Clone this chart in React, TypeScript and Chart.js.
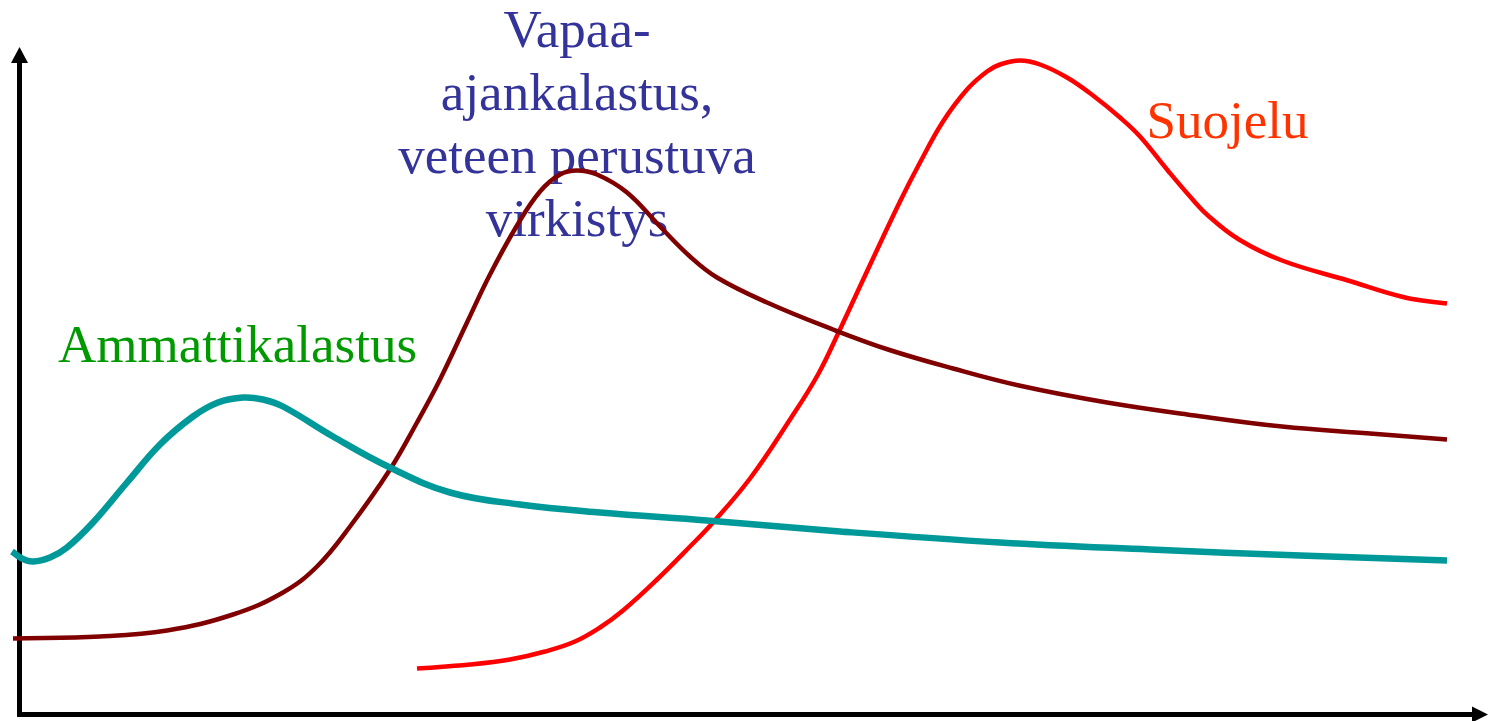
import React, { useEffect, useRef } from "react";
import { Chart, registerables } from "chart.js";

Chart.register(...registerables);

// Ammattikalastus (teal)
const ammattiX = [-0.7, 0.3, 1.4, 3.1, 4.8, 7.4, 10.8, 14.1, 17.4, 19.9, 22.4, 24.4, 26.4, 31.4, 37.1, 43.1, 50.1, 58.1, 68.8, 82.1, 98.1, 113.1, 128.1, 142.8];
const ammattiY = [16.3, 15.6, 15.3, 15.7, 16.7, 19.2, 23.2, 27.0, 29.8, 31.2, 31.7, 31.5, 30.8, 27.8, 24.7, 22.2, 21.0, 20.2, 19.4, 18.3, 17.2, 16.5, 15.9, 15.4];

// Vapaa-ajankalastus (dark red)
const vapaaX = [-0.6, 8.1, 14.8, 21.4, 26.4, 29.8, 33.1, 37.1, 39.8, 42.1, 44.8, 47.1, 49.8, 52.1, 54.1, 55.8, 57.8, 60.8, 64.1, 67.1, 69.8, 74.8, 81.4, 86.9, 93.4, 100.0, 108.8, 117.6, 126.3, 135.1, 142.8];
const vapaaY = [7.6, 7.8, 8.4, 10.0, 12.2, 14.8, 18.8, 24.5, 29.2, 33.5, 39.2, 44.0, 48.9, 52.3, 54.0, 54.4, 54.0, 52.2, 48.8, 45.8, 43.7, 41.2, 38.5, 36.5, 34.6, 32.9, 31.2, 29.9, 28.8, 28.1, 27.5];

// Suojelu (red)
const suojeluX = [39.8, 45.1, 49.1, 52.6, 55.6, 58.1, 60.4, 63.8, 67.1, 69.4, 73.1, 77.1, 79.9, 82.0, 84.7, 88.1, 90.1, 92.4, 94.8, 96.8, 98.1, 100.1, 102.1, 104.8, 107.4, 110.1, 112.1, 114.8, 117.1, 118.9, 122.0, 126.3, 132.9, 138.6, 142.8];
const suojeluY = [4.6, 5.0, 5.5, 6.3, 7.3, 8.7, 10.4, 13.5, 16.8, 19.2, 23.6, 29.5, 34.0, 38.3, 44.1, 51.3, 55.2, 59.3, 62.5, 64.3, 65.0, 65.4, 65.0, 63.7, 61.9, 59.7, 57.8, 54.5, 51.8, 49.9, 47.5, 45.4, 43.4, 41.7, 41.1];

// Text labels (data coordinates: center x, baseline y)
const labelTexts = ["Ammattikalastus", "Vapaa-", "ajankalastus,", "veteen perustuva", "virkistys", "Suojelu"];
const labelX = [21.85, 55.8, 55.8, 55.8, 55.8, 120.85];
const labelY = [35.25, 66.75, 60.45, 54.15, 47.85, 57.65];
const labelColors = ["#009900", "#333399", "#333399", "#333399", "#333399", "#FF3300"];

const xMax = 146.9;
const yMax = 66.75;
const FONT = '53px "Liberation Serif", "Times New Roman", "DejaVu Serif", serif';

const toPoints = (xs: number[], ys: number[]) => xs.map((x, i) => ({ x, y: ys[i] }));

const decorPlugin = {
  id: "decor",
  beforeDatasetsDraw(chart: any) {
    const { ctx, chartArea, scales } = chart;
    const xs = scales.x;
    const ys = scales.y;
    ctx.save();
    // axes
    ctx.strokeStyle = "#000";
    ctx.fillStyle = "#000";
    ctx.lineWidth = 5;
    ctx.lineCap = "butt";
    const ax = chartArea.left + 0.5;
    const ay = chartArea.bottom;
    ctx.beginPath();
    ctx.moveTo(ax, ay + 2.5);
    ctx.lineTo(ax, chartArea.top + 14);
    ctx.stroke();
    ctx.beginPath();
    ctx.moveTo(ax - 2.5, ay);
    ctx.lineTo(chartArea.right - 14, ay);
    ctx.stroke();
    // arrowheads
    ctx.beginPath();
    ctx.moveTo(ax, chartArea.top);
    ctx.lineTo(ax - 8.5, chartArea.top + 16);
    ctx.lineTo(ax + 8.5, chartArea.top + 16);
    ctx.closePath();
    ctx.fill();
    ctx.beginPath();
    ctx.moveTo(chartArea.right, ay);
    ctx.lineTo(chartArea.right - 16, ay - 8);
    ctx.lineTo(chartArea.right - 16, ay + 8);
    ctx.closePath();
    ctx.fill();
    // labels
    ctx.font = FONT;
    ctx.textAlign = "center";
    ctx.textBaseline = "alphabetic";
    labelTexts.forEach((t, i) => {
      ctx.fillStyle = labelColors[i];
      ctx.fillText(t, xs.getPixelForValue(labelX[i]), ys.getPixelForValue(labelY[i]));
    });
    ctx.restore();
  },
};

export default function App() {
  const ref = useRef<HTMLCanvasElement | null>(null);
  useEffect(() => {
    if (!ref.current) return;
    const common = {
      pointRadius: 0,
      pointHoverRadius: 0,
      fill: false,
      tension: 0.4,
      clip: false as any,
      borderCapStyle: "butt" as const,
      borderJoinStyle: "round" as const,
    };
    const chart = new Chart(ref.current, {
      type: "line",
      data: {
        datasets: [
          { ...common, label: "Ammattikalastus", data: toPoints(ammattiX, ammattiY), borderColor: "#009999", borderWidth: 6.5 },
          { ...common, label: "Vapaa-ajankalastus", data: toPoints(vapaaX, vapaaY), borderColor: "#800000", borderWidth: 4.5 },
          { ...common, label: "Suojelu", data: toPoints(suojeluX, suojeluY), borderColor: "#FF0000", borderWidth: 4.5 },
        ],
      },
      options: {
        animation: false,
        responsive: false,
        devicePixelRatio: 1,
        layout: { padding: { left: 19, right: 5, top: 47, bottom: 6.5 } },
        scales: {
          x: { type: "linear", min: 0, max: xMax, display: false },
          y: { type: "linear", min: 0, max: yMax, display: false },
        },
        plugins: { legend: { display: false }, tooltip: { enabled: false } },
        events: [],
      },
      plugins: [decorPlugin],
    });
    let alive = true;
    if ((document as any).fonts && (document as any).fonts.load) {
      (document as any).fonts.load(FONT, "Vapaa").then(() => {
        if (alive) chart.draw();
      }).catch(() => {});
    }
    return () => {
      alive = false;
      chart.destroy();
    };
  }, []);
  return (
    <div style={{ position: "fixed", left: 0, top: 0, width: 1493, height: 721, background: "#fff" }}>
      <span style={{ position: "absolute", left: -9999, fontFamily: '"Liberation Serif"', fontSize: 53 }}>Vapaa</span>
      <canvas ref={ref} width={1493} height={721} style={{ display: "block" }} />
    </div>
  );
}
